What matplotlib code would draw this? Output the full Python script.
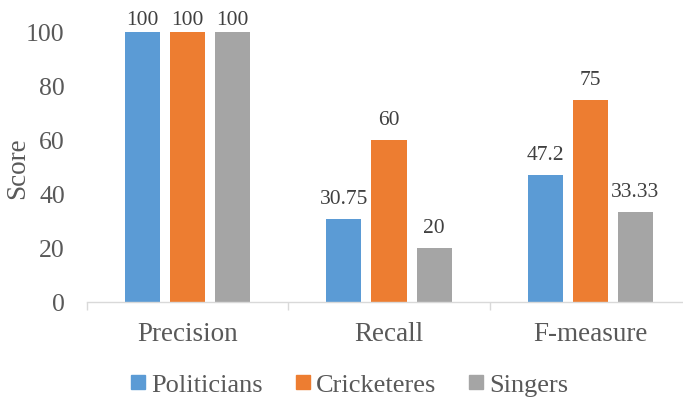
import matplotlib
matplotlib.use("Agg")
import matplotlib.pyplot as plt
from matplotlib.lines import Line2D
import numpy as np

categories = ["Precision", "Recall", "F-measure"]
series_names = ["Politicians", "Cricketeres", "Singers"]
politicians = [100, 30.75, 47.2]
cricketeres = [100, 60, 75]
singers = [100, 20, 33.33]
value_labels = [["100", "30.75", "47.2"], ["100", "60", "75"], ["100", "20", "33.33"]]
colors = ["#5B9BD5", "#ED7D31", "#A5A5A5"]
yticks = [0, 20, 40, 60, 80, 100]

plt.rcParams['font.family'] = ['Liberation Serif', 'DejaVu Serif']
txt = "#595959"

fig = plt.figure(figsize=(6.83, 4.02), dpi=100)
ax = fig.add_axes([87/683, 99/402, 604/683, 270/402])

x = np.arange(len(categories))
width = 35/201
step = 45/201
data = [politicians, cricketeres, singers]
for i, (vals, c, labs) in enumerate(zip(data, colors, value_labels)):
    pos = x + (i - 1) * step
    ax.bar(pos, vals, width, color=c, zorder=2)
    for px, v, lab in zip(pos, vals, labs):
        off = 5.8 if v >= 100 else 11.3
        ax.annotate(lab, (px, v), xytext=(0, off), textcoords="offset points",
                    ha="center", va="baseline", fontsize=15.5, color="#404040",
                    annotation_clip=False)

ax.set_xlim(-0.5, 2.5)
ax.set_ylim(0, 100)
ax.set_yticks(yticks)
ax.set_yticklabels([str(t) for t in yticks])
ax.set_xticks(x)
ax.set_xticklabels(categories)
ax.set_xticks([-0.5, 0.5, 1.5, 2.5], minor=True)
ax.tick_params(axis="x", which="major", length=0, pad=14, labelsize=19.5, labelcolor=txt)
ax.tick_params(axis="x", which="minor", length=6, width=1, color="#D9D9D9")
ax.tick_params(axis="y", length=0, pad=16, labelsize=18.5, labelcolor=txt)
for s in ["top", "right", "left"]:
    ax.spines[s].set_visible(False)
ax.spines["bottom"].set_color("#D9D9D9")
ax.spines["bottom"].set_linewidth(1)
fig.text(17.5/683, 1 - 168/402, "Score", rotation=90, ha="center", va="center",
         fontsize=19.5, color=txt)

handles = [Line2D([0], [0], marker="s", linestyle="none", markersize=10,
                  markerfacecolor=c, markeredgecolor=c) for c in colors]
fig.legend(handles, series_names, loc="center", bbox_to_anchor=(348/683, 1 - 385/402),
           ncol=3, frameon=False, fontsize=19, labelcolor=txt,
           handletextpad=0.1, columnspacing=1.1, handlelength=0.8)

fig.savefig("out.png", dpi=100)
